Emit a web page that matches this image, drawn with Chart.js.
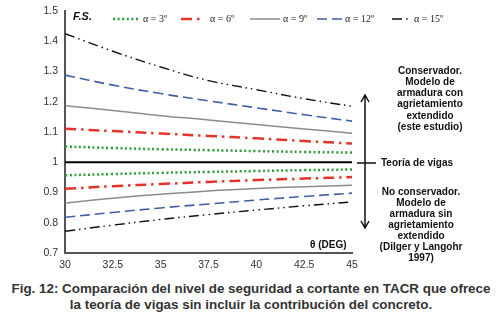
<!DOCTYPE html>
<html>
<head>
<meta charset="utf-8">
<script src="https://cdn.jsdelivr.net/npm/chart.js@4"></script>
<style>
  body { margin: 0; background: #fff; }
  #wrap { position: relative; width: 502px; height: 319px; }
  #caption {
    position: absolute; left: 0; top: 281px; width: 502px;
    text-align: center; font: bold 13.4px "Liberation Sans", Arial, sans-serif;
    color: #333; line-height: 16px; white-space: nowrap;
  }
</style>
</head>
<body>
<div id="wrap">
  <canvas id="fsChart" width="502" height="275"></canvas>
  <div id="caption">Fig. 12: Comparación del nivel de seguridad a cortante en TACR que ofrece<br>la teoría de vigas sin incluir la contribución del concreto.</div>
</div>
<script>
// theta (deg) and F.S. values
const thetas = [30, 32.5, 35, 37.5, 40, 42.5, 45];
const alphaLabels = ['α = 3º', 'α = 6º', 'α = 9º', 'α = 12º', 'α = 15º'];

const upper3  = [1.052, 1.047, 1.043, 1.040, 1.037, 1.034, 1.032];
const upper6  = [1.111, 1.103, 1.095, 1.087, 1.079, 1.070, 1.062];
const upper9  = [1.187, 1.171, 1.154, 1.140, 1.125, 1.110, 1.096];
const upper12 = [1.288, 1.255, 1.227, 1.203, 1.180, 1.157, 1.136];
const upper15 = [1.425, 1.367, 1.315, 1.270, 1.240, 1.210, 1.185];

const lower3  = [0.957, 0.961, 0.965, 0.968, 0.971, 0.974, 0.976];
const lower6  = [0.912, 0.921, 0.928, 0.935, 0.941, 0.946, 0.951];
const lower9  = [0.865, 0.881, 0.894, 0.905, 0.913, 0.919, 0.924];
const lower12 = [0.818, 0.834, 0.849, 0.862, 0.875, 0.887, 0.898];
const lower15 = [0.772, 0.792, 0.811, 0.827, 0.842, 0.856, 0.869];

const beamTheory = [1, 1, 1, 1, 1, 1, 1];

const styles = [
    { color: '#2f9a3c', width: 2.5, dash: [2, 2.6] },
    { color: '#e3342b', width: 2.5, dash: [11, 5, 2.5, 5] },
    { color: '#8c8c8c', width: 1.5, dash: [] },
    { color: '#3c5fa6', width: 1.6, dash: [10, 5] },
    { color: '#111111', width: 1.4, dash: [10, 4, 1.5, 4, 1.5, 4] }
];

const uppers = [upper3, upper6, upper9, upper12, upper15];
const lowers = [lower3, lower6, lower9, lower12, lower15];

function toPoints(values) {
    return values.map((v, i) => ({ x: thetas[i], y: v }));
}

let datasets = [];
uppers.forEach((values, i) => {
    [values, lowers[i]].forEach(vals => {
        datasets.push({
            label: alphaLabels[i],
            data: toPoints(vals),
            borderColor: styles[i].color,
            borderWidth: styles[i].width,
            borderDash: styles[i].dash,
            pointRadius: 0,
            tension: 0.4,
            fill: false
        });
    });
});
datasets.push({
    label: 'Teoría de vigas',
    data: toPoints(beamTheory),
    borderColor: '#000',
    borderWidth: 2,
    pointRadius: 0,
    fill: false
});

/** Legend, labels and the arrow on the right. */
const extras = {
    id: 'extras',
    afterDraw(chart) {
        const ctx = chart.ctx;
        ctx.save();

        // legend inside the plot
        const legendPos = [[113, 140, 143], [181, 201, 210], [250, 280, 283], [317, 342, 345], [392, 411, 414]];
        legendPos.forEach((p, i) => {
            ctx.beginPath();
            ctx.strokeStyle = styles[i].color;
            ctx.lineWidth = styles[i].width;
            ctx.setLineDash(styles[i].dash);
            ctx.moveTo(p[0], 19);
            ctx.lineTo(p[1], 19);
            ctx.stroke();
            ctx.setLineDash([]);
            ctx.fillStyle = '#222';
            ctx.font = '10px "Liberation Serif", "DejaVu Serif", serif';
            ctx.textAlign = 'left';
            ctx.textBaseline = 'middle';
            ctx.fillText(alphaLabels[i], p[2], 19);
        });

        ctx.fillStyle = '#111';
        ctx.font = 'italic bold 11px "Liberation Sans", Arial, sans-serif';
        ctx.fillText('F.S.', 73, 17);
        ctx.font = 'bold 10px "Liberation Sans", Arial, sans-serif';
        ctx.fillText('θ (DEG)', 310, 245);

        // arrow
        ctx.strokeStyle = '#111';
        ctx.lineWidth = 1.5;
        ctx.beginPath();
        ctx.moveTo(365, 96);
        ctx.lineTo(365, 227);
        ctx.moveTo(361, 102); ctx.lineTo(365, 95); ctx.lineTo(369, 102);
        ctx.moveTo(361, 221); ctx.lineTo(365, 228); ctx.lineTo(369, 221);
        ctx.moveTo(357, 163); ctx.lineTo(376, 163);
        ctx.stroke();

        ctx.font = 'bold 10px "Liberation Sans", Arial, sans-serif';
        ctx.textAlign = 'left';
        ctx.fillText('Teoría de vigas', 381, 163);

        ctx.textAlign = 'center';
        const top = ['Conservador.', 'Modelo de', 'armadura con', 'agrietamiento', 'extendido', '(este estudio)'];
        top.forEach((t, i) => ctx.fillText(t, 430, 71 + i * 11.2));
        const bottom = ['No conservador.', 'Modelo de', 'armadura sin', 'agrietamiento', 'extendido', '(Dilger y Langohr', '1997)'];
        bottom.forEach((t, i) => ctx.fillText(t, 421, 192 + i * 11.1));

        ctx.restore();
    }
};

const ctxL = document.getElementById('fsChart').getContext('2d');
const fsChart = new Chart(ctxL, {
    type: 'line',
    data: { datasets: datasets },
    options: {
        responsive: false,
        animation: false,
        layout: { padding: { left: 0, right: 150, top: 11, bottom: 0 } },
        plugins: { legend: { display: false }, tooltip: { enabled: false } },
        scales: {
            x: {
                type: 'linear',
                min: 30, max: 45,
                grid: { display: false, drawTicks: true, tickLength: 4, color: '#555' },
                border: { color: '#555', width: 2 },
                ticks: { stepSize: 2.5, color: '#333', padding: 2,
                         font: { family: '"Liberation Sans", Arial, sans-serif', size: 10.5 } },
                afterFit: s => { s.height = 22; }
            },
            y: {
                min: 0.7, max: 1.5,
                grid: { display: false, drawTicks: true, tickLength: 4, color: '#555' },
                border: { color: '#555', width: 2 },
                ticks: { stepSize: 0.1, color: '#333', padding: 3,
                         font: { family: '"Liberation Sans", Arial, sans-serif', size: 10.5 },
                         callback: v => String(Math.round(v * 10) / 10) },
                afterFit: s => { s.width = 65; }
            }
        }
    },
    plugins: [extras]
});
</script>
</body>
</html>
